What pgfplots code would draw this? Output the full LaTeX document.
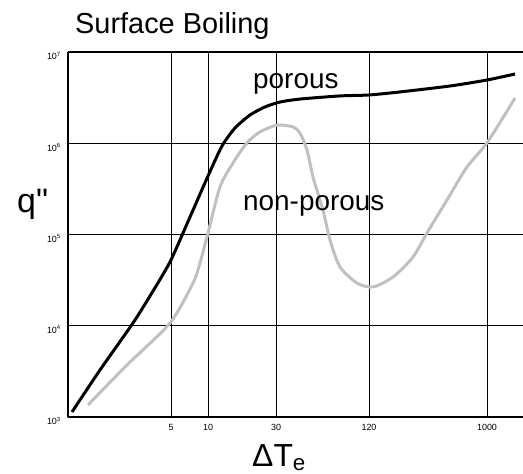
\documentclass[border=0pt]{standalone}
\usepackage{pgfplots}
\pgfplotsset{compat=1.18}
\usepackage{fontspec}
\setmainfont{Liberation Sans}
\definecolor{lgray}{RGB}{192,192,192}
\begin{document}
\begin{tikzpicture}
\begin{axis}[
  scale only axis,
  width=455bp, height=365bp,
  xmin=0, xmax=455,
  ymode=log, ymin=1e3, ymax=1e7,
  axis x line=box, axis y line=left,
  axis line style={-, line width=1.6bp, black},
  xtick={103,140,208,301,419},
  xticklabels={5,10,30,120,1000},
  ytick={1e3,1e4,1e5,1e6,1e7},
  yticklabels={10\textsuperscript{3},10\textsuperscript{4},10\textsuperscript{5},10\textsuperscript{6},10\textsuperscript{7}},
  major tick length=0pt,
  minor tick num=0,
  grid=major,
  major grid style={black, line width=0.8bp},
  xticklabel style={font=\fontsize{9}{10}\selectfont, inner sep=0pt},
  xticklabel shift=7bp,
  yticklabel style={font=\fontsize{9}{10}\selectfont, inner sep=0pt, yshift=-4bp},
  yticklabel shift=7bp,
  clip=false,
]
\addplot[black, line width=3bp, smooth, tension=0.4] coordinates {
(4,1135) (32,3273) (65,1.072e4) (82,2.12e4) (102,5.00e4) (122,1.556e5)
(140,4.375e5) (154,9.33e5) (167,1.469e6) (182,2.04e6) (197,2.50e6)
(212,2.83e6) (232,3.05e6) (272,3.30e6) (301,3.38e6) (332,3.65e6)
(382,4.24e6) (419,4.93e6) (447,5.74e6)
};
\addplot[lgray, line width=3bp, smooth, tension=0.45] coordinates {
(20,1355) (59,3715) (102,1.07e4) (125,2.94e4) (132,4.88e4) (140,1.04e5)
(152,3.32e5) (165,6.08e5) (179,1.01e6) (192,1.33e6) (209,1.58e6)
(225,1.51e6) (232,1.29e6) (239,8.43e5) (245,4.27e5) (255,1.85e5)
(262,8.71e4) (272,4.41e4) (289,2.94e4) (305,2.66e4) (325,3.42e4)
(345,5.66e4) (359,1.04e5) (379,2.39e5) (399,5.50e5) (419,1.01e6)
(447,3.13e6)
};
\node[anchor=base west, inner sep=0pt, font=\fontsize{29}{32}\selectfont] at (rel axis cs:0.0154,1.052) {Surface Boiling};
\node[anchor=base west, inner sep=0pt, font=\fontsize{28}{32}\selectfont] at (rel axis cs:0.4066,0.901) {porous};
\node[anchor=base west, inner sep=0pt, font=\fontsize{28}{32}\selectfont] at (rel axis cs:0.3846,0.567) {non-porous};
\node[anchor=base west, inner sep=0pt, font=\fontsize{34}{38}\selectfont] at (rel axis cs:-0.112,0.5616) {q\textquotedbl};
\node[anchor=base west, inner sep=0pt, font=\fontsize{32}{36}\selectfont] at (rel axis cs:0.4044,-0.137) {ΔT\textsubscript{e}};
\coordinate (ll) at (rel axis cs:0,0);
\coordinate (ur) at (rel axis cs:1,1);
\end{axis}
\pgfresetboundingbox
\path[use as bounding box] ([xshift=-68bp,yshift=-57bp]ll) rectangle ([yshift=52bp]ur);
\end{tikzpicture}
\end{document}
